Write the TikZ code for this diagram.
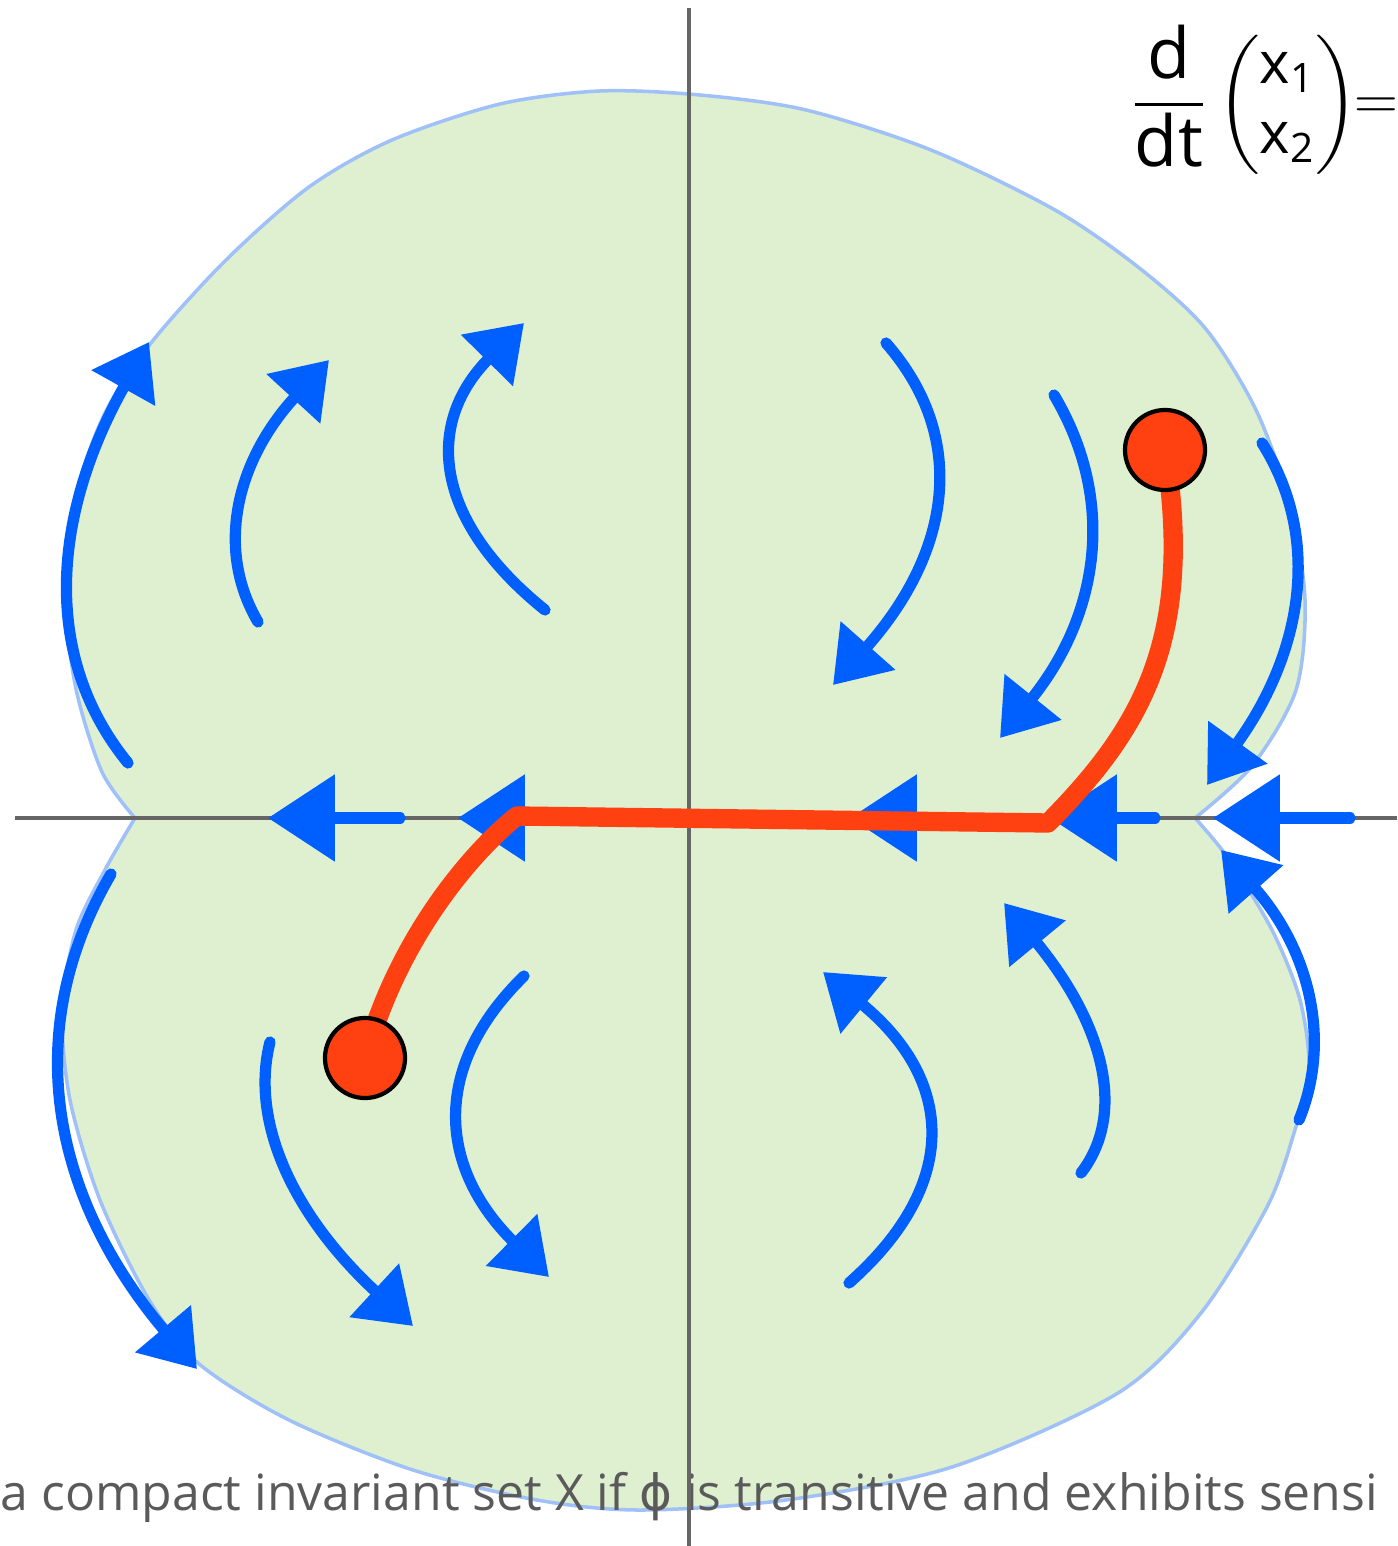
\documentclass[tikz,border=0pt]{standalone}
\usepackage{amsmath,amssymb}
\usepackage{fontspec}
\setmainfont{Open Sans}
\newfontfamily\phifont{DejaVu Sans}
\usepackage{tikz}
\usetikzlibrary{arrows.meta}
\definecolor{flowblue}{RGB}{0,96,255}
\definecolor{setgreen}{RGB}{223,240,208}
\definecolor{rimblue}{RGB}{160,192,248}
\definecolor{orbitred}{RGB}{255,64,16}
\definecolor{axisgray}{RGB}{102,102,102}
\definecolor{textgray}{RGB}{90,90,90}
\newcommand{\bigletters}[1]{\text{\fontsize{20}{24}\selectfont #1}}

\begin{document}
\begin{tikzpicture}[x=0.01cm,y=-0.01cm,
    flow/.style={flowblue,line width=3.2pt,line cap=round,-{Triangle[length=15pt,width=20pt]}},
    axisflow/.style={flow,-{Triangle[length=19pt,width=24pt]}},
    orbit/.style={orbitred,line width=5.5pt,line cap=round,line join=round},
    point/.style={circle,fill=orbitred,draw=black,line width=1.2pt,minimum size=0.8cm,inner sep=0pt}]
  \useasboundingbox (0,0) rectangle (1397,1546);
  \filldraw[fill=setgreen,draw=rimblue,line width=1pt]
    plot[smooth] coordinates {(135,818) (102,772) (76,689) (66,600) (75,500) (104,415) (151,343)
      (226,260) (309,187) (392,140) (500,104) (600,91) (700,95) (806,110) (931,150) (1055,210)
      (1138,267) (1205,328) (1256,410) (1290,505) (1305,600) (1296,690) (1252,766) (1195,818)}
    -- plot[smooth] coordinates {(1195,818) (1228,858) (1272,930) (1300,1000) (1309,1070)
      (1294,1133) (1267,1207) (1201,1313) (1118,1393) (952,1467) (786,1500) (640,1510)
      (537,1500) (413,1470) (289,1420) (198,1363) (148,1298) (100,1200) (70,1100) (62,1010)
      (76,930) (106,868) (135,818)} -- cycle;
  \node[anchor=base west,inner sep=0,textgray,font=\fontsize{14.2}{17}\selectfont] (caption)
    at (0,1510) {a compact invariant set X if {\phifont ϕ} is transitive and exhibits sensi};
  \draw[axisgray,line width=1.2pt] (15,818) -- (1397,818);
  \draw[axisgray,line width=1.2pt] (689,8) -- (689,1546);
  \node[anchor=west,inner sep=0,font=\fontsize{16.5}{20}\selectfont] (field) at (1130,100)
    {$\dfrac{\bigletters{d}}{\bigletters{dt}}\begin{pmatrix}\text{x}_{\text{1}}\\ \text{x}_{\text{2}}\end{pmatrix}\!\!=$};
  \draw[flow] (128,763) .. controls (43,659) and (50,519) .. (149,342);
  \draw[flow] (258,622) .. controls (214,547) and (238,459) .. (329,360);
  \draw[flow] (545,610) .. controls (432,519) and (425,423) .. (524,323);
  \draw[flow] (886,343) .. controls (969,438) and (951,552) .. (833,685);
  \draw[flow] (1054,395) .. controls (1117,501) and (1099,615) .. (1000,738);
  \draw[flow] (1262,443) .. controls (1322,538) and (1303,652) .. (1207,785);
  \draw[flow] (111,874) .. controls (16,1037) and (56,1202) .. (197,1369);
  \draw[flow] (270,1042) .. controls (249,1125) and (297,1219) .. (413,1326);
  \draw[flow] (524,976) .. controls (430,1068) and (439,1168) .. (549,1277);
  \draw[flow] (849,1283) .. controls (962,1183) and (953,1079) .. (823,972);
  \draw[flow] (1081,1173) .. controls (1128,1112) and (1102,1022) .. (1004,903);
  \draw[flow] (1299,1120) .. controls (1333,1037) and (1307,947) .. (1221,850);
  \draw[axisflow] (400,818) -- (268,818);
  \draw[axisflow] (560,818) -- (458,818);
  \draw[axisflow] (950,818) -- (850,818);
  \draw[axisflow] (1155,818) -- (1050,818);
  \draw[axisflow] (1350,818) -- (1213,818);
  \coordinate (upper) at (1165,450);
  \coordinate (lower) at (365,1058);
  \draw[orbit] (upper) .. controls (1195,640) and (1140,730) .. (1048,823)
    -- (517,816) .. controls (480,845) and (400,930) .. (lower);
  \node[point] (first) at (upper) {};
  \node[point] (last) at (lower) {};
\end{tikzpicture}
\end{document}
